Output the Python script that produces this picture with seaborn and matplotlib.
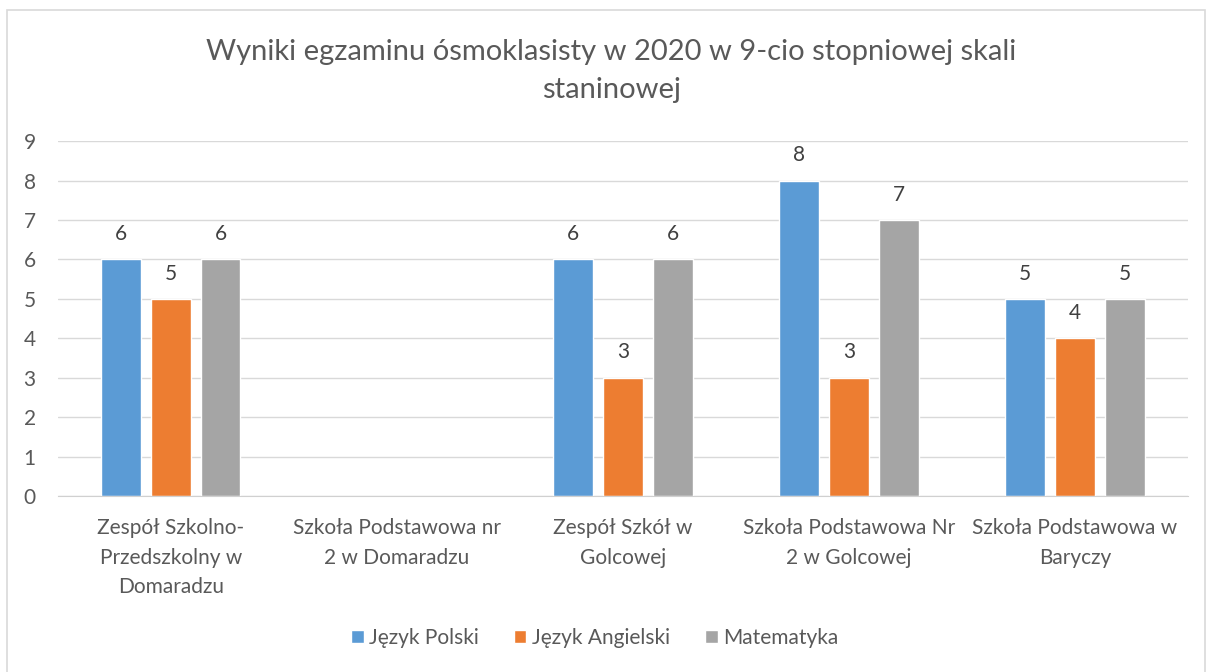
import pandas as pd
import matplotlib.pyplot as plt
import seaborn as sns
from matplotlib.patches import Rectangle

# chart data
schools = ["Zespół Szkolno-\nPrzedszkolny w\nDomaradzu",
           "Szkoła Podstawowa nr\n2 w Domaradzu",
           "Zespół Szkół w\nGolcowej",
           "Szkoła Podstawowa Nr\n2 w Golcowej",
           "Szkoła Podstawowa w\nBaryczy"]
subjects = ["Język Polski", "Język Angielski", "Matematyka"]
polski = [6, None, 6, 8, 5]
angielski = [5, None, 3, 3, 4]
matematyka = [6, None, 6, 7, 5]
colors = ["#5B9BD5", "#ED7D31", "#A5A5A5"]

rows = []
for subj, vals in zip(subjects, [polski, angielski, matematyka]):
    for sch, v in zip(schools, vals):
        if v is not None:
            rows.append({"szkola": sch, "przedmiot": subj, "wynik": v})
df = pd.DataFrame(rows)

sns.set_style("white")
plt.rcParams["font.family"] = ["Lato", "DejaVu Sans"]

fig = plt.figure(figsize=(12.06, 6.72), dpi=100)
ax = fig.add_axes([0.048, 0.262, 0.937, 0.528])

sns.barplot(data=df, x="szkola", y="wynik", hue="przedmiot",
            order=schools, hue_order=subjects, palette=colors,
            width=0.66, gap=0.2, ax=ax, errorbar=None, saturation=1)

for cont in ax.containers:
    ax.bar_label(cont, fmt="%d", padding=11, fontsize=15, color="#404040")

ax.set_xlim(-0.5, 4.5)
ax.set_ylim(0, 9)
ax.set_yticks(range(10))
ax.yaxis.grid(True, color="#D9D9D9", linewidth=1)
ax.set_axisbelow(True)
for s in ["left", "right", "top"]:
    ax.spines[s].set_visible(False)
ax.spines["bottom"].set_color("#D0D0D0")
ax.tick_params(axis="both", length=0, labelsize=15, colors="#595959")
ax.tick_params(axis="y", pad=16)
ax.tick_params(axis="x", pad=16)
for lbl in ax.get_xticklabels():
    lbl.set_linespacing(1.6)
ax.set_xlabel("")
ax.set_ylabel("")

fig.text(0.507, 0.894, "Wyniki egzaminu ósmoklasisty w 2020 w 9-cio stopniowej skali\nstaninowej",
         ha="center", va="center", fontsize=21, color="#595959", linespacing=1.58)

handles, labels = ax.get_legend_handles_labels()
ax.legend_.remove()
fig.legend(handles, labels, loc="center", bbox_to_anchor=(0.493, 0.051), ncol=3,
           frameon=False, fontsize=15, handlelength=0.6, handleheight=0.6,
           columnspacing=1.7, handletextpad=0.25, labelcolor="#595959")

fig.patches.append(Rectangle((0.0058, -0.01), 0.993, 0.995, transform=fig.transFigure,
                             fill=False, edgecolor="#D9D9D9", linewidth=1.2))

fig.savefig("out.png", dpi=100)
